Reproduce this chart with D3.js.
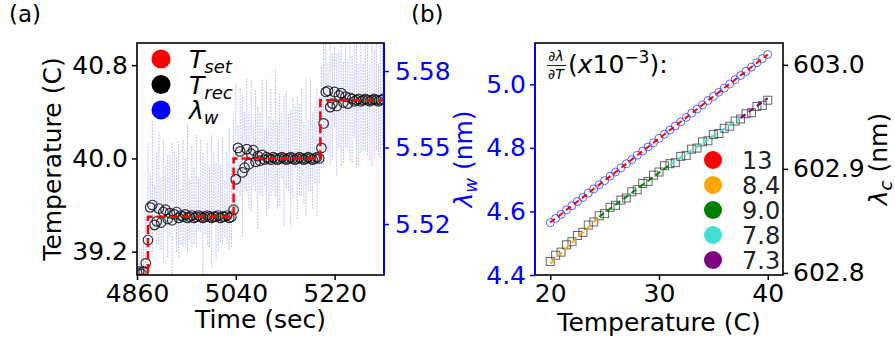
<!DOCTYPE html>
<html>
<head>
<meta charset="utf-8">
<script src="https://cdn.jsdelivr.net/npm/d3@7"></script>
<style>
  body { margin: 0; background: #fff; }
  svg { font-family: 'DejaVu Sans', sans-serif; }
</style>
</head>
<body>
<svg id="figure" width="895" height="341"></svg>
<script>
// ---- panel (a): time series ----
const recStart = 4860, recStep = 4;
const tRec = [
  39.02, 39.03, 39.01, 39.03, 39.10, 39.30, 39.58, 39.60, 39.43, 39.46,
  39.57, 39.45, 39.54, 39.56, 39.48, 39.53, 39.47, 39.52, 39.54, 39.49,
  39.51, 39.50, 39.52, 39.49, 39.50, 39.51, 39.49, 39.50, 39.51, 39.50,
  39.49, 39.50, 39.51, 39.50, 39.49, 39.50, 39.50, 39.51, 39.49, 39.50,
  39.50, 39.51, 39.49, 39.50, 39.56, 39.82, 40.09, 40.06, 39.88, 39.92,
  40.08, 39.95, 40.04, 40.07, 39.97, 40.02, 39.98, 40.03, 39.99, 40.01,
  40.00, 39.99, 40.01, 40.00, 39.99, 40.00, 40.01, 40.00, 39.99, 40.00,
  40.01, 40.00, 39.99, 40.00, 40.01, 40.00, 39.99, 40.00, 40.01, 40.00,
  39.99, 40.00, 40.01, 40.00, 40.09, 40.30, 40.57, 40.58, 40.44, 40.47,
  40.57, 40.45, 40.54, 40.56, 40.48, 40.53, 40.47, 40.52, 40.51, 40.49,
  40.50, 40.51, 40.49, 40.50, 40.51, 40.50, 40.49, 40.50, 40.51, 40.50,
  40.49, 40.50, 40.51
];
const lamW = [
  5.506, 5.508, 5.505, 5.507, 5.512, 5.532, 5.528, 5.535, 5.526, 5.530,
  5.534, 5.524, 5.529, 5.533, 5.527, 5.531, 5.525, 5.536, 5.528, 5.530,
  5.523, 5.532, 5.529, 5.534, 5.526, 5.531, 5.527, 5.533, 5.528, 5.535,
  5.524, 5.530, 5.532, 5.527, 5.529, 5.536, 5.525, 5.531, 5.528, 5.533,
  5.526, 5.530, 5.534, 5.527, 5.544, 5.550, 5.546, 5.552, 5.543, 5.549,
  5.555, 5.545, 5.551, 5.547, 5.553, 5.542, 5.548, 5.554, 5.546, 5.550,
  5.544, 5.552, 5.547, 5.556, 5.543, 5.549, 5.551, 5.545, 5.553, 5.548,
  5.542, 5.550, 5.554, 5.546, 5.549, 5.552, 5.544, 5.550, 5.547, 5.555,
  5.545, 5.551, 5.548, 5.553, 5.562, 5.568, 5.572, 5.565, 5.570, 5.566,
  5.574, 5.563, 5.569, 5.571, 5.564, 5.573, 5.567, 5.570, 5.565, 5.572,
  5.568, 5.563, 5.571, 5.566, 5.574, 5.569, 5.564, 5.570, 5.567, 5.573,
  5.565, 5.569, 5.571
];
const lamErr = [
  0.006, 0.010, 0.005, 0.008, 0.012, 0.020, 0.012, 0.026, 0.009, 0.018,
  0.022, 0.014, 0.024, 0.010, 0.020, 0.016, 0.027, 0.013, 0.019, 0.023,
  0.011, 0.021, 0.017, 0.025, 0.012, 0.020, 0.015, 0.022, 0.010, 0.018,
  0.024, 0.014, 0.020, 0.016, 0.026, 0.012, 0.019, 0.022, 0.015, 0.021,
  0.011, 0.018, 0.024, 0.016, 0.018, 0.025, 0.013, 0.021, 0.028, 0.015,
  0.022, 0.019, 0.026, 0.012, 0.020, 0.024, 0.016, 0.023, 0.011, 0.027,
  0.018, 0.021, 0.014, 0.025, 0.017, 0.022, 0.013, 0.026, 0.019, 0.015,
  0.023, 0.020, 0.012, 0.024, 0.018, 0.021, 0.016, 0.027, 0.014, 0.022,
  0.019, 0.015, 0.025, 0.017, 0.020, 0.026, 0.022, 0.018, 0.027, 0.021,
  0.016, 0.024, 0.019, 0.028, 0.020, 0.023, 0.017, 0.025, 0.021, 0.018,
  0.026, 0.020, 0.023, 0.017, 0.025, 0.022, 0.019, 0.027, 0.021, 0.024,
  0.018, 0.023, 0.020
];
const setTimes = [4860, 4880, 5036, 5194, 5310];
const setLevels = [39.0, 39.5, 40.0, 40.5, 40.5];

const aTimeTicks = [4860, 5040, 5220];
const aTempTicks = [39.2, 40.0, 40.8];
const aLamTicks = [5.52, 5.55, 5.58];

// ---- panel (b): temperature sweep ----
const sweepTemp = d3.range(20, 40.001, 0.5);
const sweepLamW = [
  4.565, 4.578, 4.591, 4.605, 4.618, 4.631, 4.644, 4.658, 4.671, 4.684,
  4.697, 4.711, 4.724, 4.737, 4.750, 4.763, 4.777, 4.790, 4.803, 4.816,
  4.830, 4.843, 4.856, 4.869, 4.882, 4.896, 4.909, 4.922, 4.935, 4.949,
  4.962, 4.975, 4.988, 5.001, 5.015, 5.028, 5.041, 5.054, 5.068, 5.081,
  5.094
];
const sweepLamC = [
  602.811, 602.817, 602.820, 602.827, 602.830, 602.836, 602.839, 602.846, 602.849, 602.855,
  602.857, 602.863, 602.865, 602.870, 602.872, 602.878, 602.880, 602.886, 602.888, 602.894,
  602.897, 602.903, 602.905, 602.906, 602.912, 602.913, 602.919, 602.920, 602.926, 602.927,
  602.933, 602.934, 602.939, 602.941, 602.946, 602.948, 602.953, 602.954, 602.960, 602.961,
  602.966
];
const fitWTemp = [20, 40];
const fitWVal = [4.565, 5.094];
const fitCTemp = [20, 24.5, 31, 37.5, 40];
const fitCVal = [602.809, 602.854, 602.904, 602.949, 602.968];
const slopeLabels = ['13', '8.4', '9.0', '7.8', '7.3'];
const slopeColors = ['red', 'orange', 'green', 'turquoise', 'purple'];

const bTempTicks = [20, 30, 40];
const bLamWTicks = [4.4, 4.6, 4.8, 5.0];
const bLamCTicks = [602.8, 602.9, 603.0];

const svg = d3.select('#figure');
const defs = svg.append('defs');
const fontSize = 25;

function styleAxis(axisG, color) {
    axisG.select('.domain').remove();
    axisG.selectAll('line').attr('stroke', color).attr('stroke-width', 1.5);
    axisG.selectAll('text')
        .attr('fill', color)
        .attr('font-size', fontSize)
        .attr('font-family', 'DejaVu Sans, sans-serif');
}

function frame(g, left, right, top, bottom, blueSide) {
    g.append('rect')
        .attr('x', left).attr('y', top)
        .attr('width', right - left).attr('height', bottom - top)
        .attr('fill', 'none').attr('stroke', 'black').attr('stroke-width', 1.6);
    const bx = blueSide === 'right' ? right : left;
    g.append('line')
        .attr('x1', bx).attr('x2', bx).attr('y1', top).attr('y2', bottom)
        .attr('stroke', 'blue').attr('stroke-width', 2);
}

function panelA() {
    const left = 137, right = 384, top = 43, bottom = 275;
    const x = d3.scaleLinear().domain([4860, 5310]).range([left, right]);
    const yT = d3.scaleLinear().domain([39.0, 40.99]).range([bottom, top]);
    const yL = d3.scaleLinear().domain([5.50, 5.591]).range([bottom, top]);
    const time = i => recStart + i * recStep;

    defs.append('clipPath').attr('id', 'clipA').append('rect')
        .attr('x', left).attr('y', top).attr('width', right - left).attr('height', bottom - top);

    const g = svg.append('g');
    const plot = g.append('g').attr('clip-path', 'url(#clipA)');

    plot.selectAll('line.lam').data(lamW)
        .enter().append('line')
        .attr('class', 'lam')
        .attr('x1', (d, i) => x(time(i))).attr('x2', (d, i) => x(time(i)))
        .attr('y1', (d, i) => yL(d - lamErr[i])).attr('y2', (d, i) => yL(d + lamErr[i]))
        .attr('stroke', 'blue').attr('stroke-opacity', 0.26)
        .attr('stroke-width', 1).attr('stroke-dasharray', '2,1');

    plot.selectAll('circle.rec').data(tRec)
        .enter().append('circle')
        .attr('class', 'rec')
        .attr('cx', (d, i) => x(time(i)))
        .attr('cy', d => yT(d))
        .attr('r', 4.8)
        .attr('fill', 'none').attr('stroke', '#111').attr('stroke-opacity', 0.85).attr('stroke-width', 1.2);

    const setLine = d3.line()
        .x(d => x(d[0])).y(d => yT(d[1]))
        .curve(d3.curveStepAfter);
    plot.append('path')
        .datum(d3.zip(setTimes, setLevels))
        .attr('d', setLine)
        .attr('fill', 'none').attr('stroke', 'red')
        .attr('stroke-width', 2.5).attr('stroke-dasharray', '9,4');

    frame(g, left, right, top, bottom, 'right');

    const xAxisG = g.append('g')
        .attr('transform', `translate(0, ${bottom})`)
        .call(d3.axisBottom(x).tickValues(aTimeTicks).tickSize(5).tickPadding(4).tickFormat(d3.format('d')));
    styleAxis(xAxisG, 'black');

    const yAxisG = g.append('g')
        .attr('transform', `translate(${left}, 0)`)
        .call(d3.axisLeft(yT).tickValues(aTempTicks).tickSize(5).tickPadding(4).tickFormat(d3.format('.1f')));
    styleAxis(yAxisG, 'black');

    const y2AxisG = g.append('g')
        .attr('transform', `translate(${right}, 0)`)
        .call(d3.axisRight(yL).tickValues(aLamTicks).tickSize(5).tickPadding(6).tickFormat(d3.format('.2f')));
    styleAxis(y2AxisG, 'blue');

    g.append('text')
        .attr('x', (left + right) / 2).attr('y', 328)
        .attr('text-anchor', 'middle').attr('font-size', fontSize)
        .text('Time (sec)');

    g.append('text')
        .attr('transform', `translate(61, ${(top + bottom) / 2}) rotate(-90)`)
        .attr('text-anchor', 'middle').attr('font-size', fontSize)
        .text('Temperature (C)');

    // legend
    const legendColors = ['red', 'black', 'blue'];
    const legendMain = ['T', 'T', 'λ'];
    const legendSub = ['set', 'rec', 'w'];
    const leg = g.append('g');
    legendColors.forEach((c, i) => {
        const cy = 59 + i * 25.5;
        leg.append('circle').attr('cx', 161).attr('cy', cy).attr('r', 9.5).attr('fill', c);
        const t = leg.append('text').attr('x', 189).attr('y', cy + 9).attr('font-size', fontSize);
        t.append('tspan').attr('font-style', 'italic').text(legendMain[i]);
        t.append('tspan').attr('font-style', 'italic').attr('font-size', 18).attr('dy', 5).text(legendSub[i]);
    });

    g.append('text').attr('x', 9).attr('y', 22).attr('font-size', 23).text('(a)');
}

function panelB() {
    const left = 535, right = 783, top = 43, bottom = 275;
    const x = d3.scaleLinear().domain([18.6, 41.4]).range([left, right]);
    const yW = d3.scaleLinear().domain([4.4, 5.13]).range([bottom, top]);
    const yC = d3.scaleLinear().domain([602.798, 603.021]).range([bottom, top]);

    defs.append('clipPath').attr('id', 'clipB').append('rect')
        .attr('x', left).attr('y', top).attr('width', right - left).attr('height', bottom - top);

    const g = svg.append('g');
    const plot = g.append('g').attr('clip-path', 'url(#clipB)');

    plot.selectAll('rect.lc').data(sweepLamC)
        .enter().append('rect')
        .attr('class', 'lc')
        .attr('x', (d, i) => x(sweepTemp[i]) - 4)
        .attr('y', d => yC(d) - 4)
        .attr('width', 8).attr('height', 8)
        .attr('fill', 'none').attr('stroke', '#333').attr('stroke-opacity', 0.75).attr('stroke-width', 1);

    const segLine = d3.line().x(d => x(d[0])).y(d => yC(d[1]));
    for (let i = 0; i < fitCTemp.length - 1; i++) {
        plot.append('path')
            .datum([[fitCTemp[i], fitCVal[i]], [fitCTemp[i + 1], fitCVal[i + 1]]])
            .attr('d', segLine)
            .attr('fill', 'none').attr('stroke', slopeColors[i + 1])
            .attr('stroke-width', 2).attr('stroke-dasharray', '6,4');
    }

    plot.selectAll('circle.lw').data(sweepLamW)
        .enter().append('circle')
        .attr('class', 'lw')
        .attr('cx', (d, i) => x(sweepTemp[i]))
        .attr('cy', d => yW(d))
        .attr('r', 4)
        .attr('fill', 'none').attr('stroke', 'blue').attr('stroke-opacity', 0.6).attr('stroke-width', 1);

    const wLine = d3.line().x(d => x(d[0])).y(d => yW(d[1]));
    plot.append('path')
        .datum(d3.zip(fitWTemp, fitWVal))
        .attr('d', wLine)
        .attr('fill', 'none').attr('stroke', 'red')
        .attr('stroke-width', 2).attr('stroke-dasharray', '6,4');

    frame(g, left, right, top, bottom, 'left');

    const xAxisG = g.append('g')
        .attr('transform', `translate(0, ${bottom})`)
        .call(d3.axisBottom(x).tickValues(bTempTicks).tickSize(5).tickPadding(4).tickFormat(d3.format('d')));
    styleAxis(xAxisG, 'black');

    const yAxisG = g.append('g')
        .attr('transform', `translate(${left}, 0)`)
        .call(d3.axisLeft(yW).tickValues(bLamWTicks).tickSize(5).tickPadding(4).tickFormat(d3.format('.1f')));
    styleAxis(yAxisG, 'blue');

    const y2AxisG = g.append('g')
        .attr('transform', `translate(${right}, 0)`)
        .call(d3.axisRight(yC).tickValues(bLamCTicks).tickSize(5).tickPadding(5).tickFormat(d3.format('.1f')));
    styleAxis(y2AxisG, 'black');

    g.append('text')
        .attr('x', (left + right) / 2).attr('y', 331)
        .attr('text-anchor', 'middle').attr('font-size', fontSize)
        .text('Temperature (C)');

    const wLabel = g.append('text')
        .attr('transform', `translate(472, ${(top + bottom) / 2}) rotate(-90)`)
        .attr('text-anchor', 'middle').attr('font-size', fontSize).attr('fill', 'blue');
    wLabel.append('tspan').attr('font-style', 'italic').text('λ');
    wLabel.append('tspan').attr('font-style', 'italic').attr('font-size', 18).attr('dy', 5).text('w');
    wLabel.append('tspan').attr('dy', -5).text(' (nm)');

    const cLabel = g.append('text')
        .attr('transform', `translate(887, ${(top + bottom) / 2}) rotate(-90)`)
        .attr('text-anchor', 'middle').attr('font-size', fontSize);
    cLabel.append('tspan').attr('font-style', 'italic').text('λ');
    cLabel.append('tspan').attr('font-style', 'italic').attr('font-size', 18).attr('dy', 5).text('c');
    cLabel.append('tspan').attr('dy', -5).text(' (nm)');

    // legend title: dλ/dT (x10^-3):
    const title = g.append('g');
    title.append('text').attr('x', 556).attr('y', 61).attr('text-anchor', 'middle').attr('font-size', 14)
        .html('∂<tspan font-style="italic">λ</tspan>');
    title.append('line').attr('x1', 547).attr('x2', 566).attr('y1', 65.5).attr('y2', 65.5)
        .attr('stroke', '#222').attr('stroke-width', 1);
    title.append('text').attr('x', 556).attr('y', 79).attr('text-anchor', 'middle').attr('font-size', 14)
        .html('∂<tspan font-style="italic">T</tspan>');
    const tt = title.append('text').attr('x', 568).attr('y', 73).attr('font-size', fontSize);
    tt.append('tspan').text('(');
    tt.append('tspan').attr('font-style', 'italic').text('x');
    tt.append('tspan').text('10');
    tt.append('tspan').attr('font-size', 17).attr('dy', -10).text('−3');
    tt.append('tspan').attr('dy', 10).text('):');

    slopeLabels.forEach((lab, i) => {
        const cy = 160 + i * 25;
        g.append('circle').attr('cx', 713).attr('cy', cy).attr('r', 9).attr('fill', slopeColors[i]);
        g.append('text').attr('x', 742).attr('y', cy + 8.5).attr('font-size', 24).attr('fill', '#222').text(lab);
    });

    g.append('text').attr('x', 411).attr('y', 22).attr('font-size', 23).text('(b)');
}

panelA();
panelB();
</script>
</body>
</html>
